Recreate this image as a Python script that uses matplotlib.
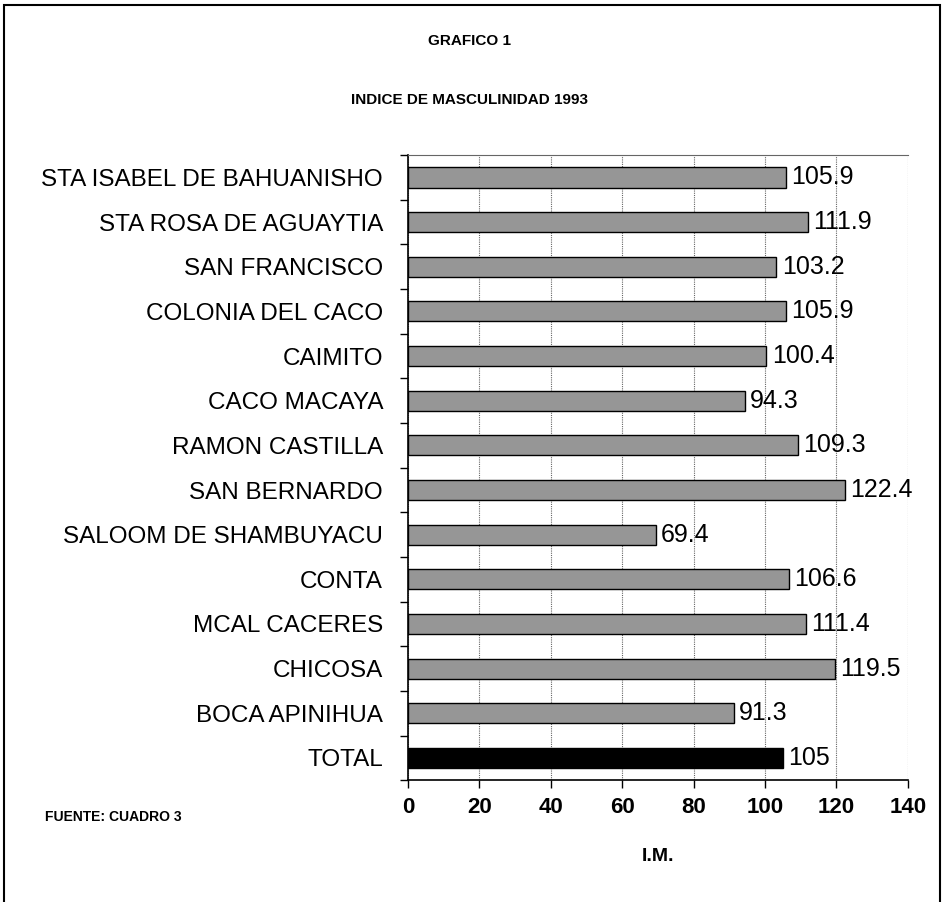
import matplotlib.pyplot as plt
import numpy as np
from matplotlib.patches import Rectangle

# data (top to bottom as shown)
places = ['STA ISABEL DE BAHUANISHO', 'STA ROSA DE AGUAYTIA', 'SAN FRANCISCO',
          'COLONIA DEL CACO', 'CAIMITO', 'CACO MACAYA', 'RAMON CASTILLA',
          'SAN BERNARDO', 'SALOOM DE SHAMBUYACU', 'CONTA', 'MCAL CACERES',
          'CHICOSA', 'BOCA APINIHUA', 'TOTAL']
im_values = [105.9, 111.9, 103.2, 105.9, 100.4, 94.3, 109.3,
             122.4, 69.4, 106.6, 111.4, 119.5, 91.3, 105]
value_labels = ['105.9', '111.9', '103.2', '105.9', '100.4', '94.3', '109.3',
                '122.4', '69.4', '106.6', '111.4', '119.5', '91.3', '105']
x_ticks = [0, 20, 40, 60, 80, 100, 120, 140]

plt.rcParams['font.family'] = ['Liberation Sans', 'DejaVu Sans']

fig = plt.figure(figsize=(9.43, 9.02), dpi=100)
ax = fig.add_axes([0.4327, 0.135, 0.53, 0.693])

ypos = np.arange(len(places))
colors = ['#969696'] * (len(places) - 1) + ['black']
ax.barh(ypos, im_values, height=0.45, color=colors, edgecolor='black',
        linewidth=1.0, zorder=3)

for y, v, lab in zip(ypos, im_values, value_labels):
    ax.text(v + 1.5, y, lab, va='center', ha='left', fontsize=18, zorder=4)

ax.set_ylim(len(places) - 0.5, -0.5)
ax.set_xlim(0, 140)
ax.set_xticks(x_ticks)
ax.set_xticklabels([str(t) for t in x_ticks], fontsize=16, fontweight='bold')
ax.set_yticks(ypos)
ax.set_yticklabels(places, fontsize=17.5)
ax.set_yticks(np.arange(len(places) + 1) - 0.5, minor=True)
ax.tick_params(axis='y', which='major', length=0, pad=18)
ax.tick_params(axis='y', which='minor', length=6, width=1, direction='out')
ax.tick_params(axis='x', length=6, width=1, direction='out', pad=6)

ax.grid(axis='x', color='#666666', linewidth=0.8, linestyle=(0, (1, 1)), zorder=1)
ax.spines['right'].set_visible(False)
ax.spines['top'].set_color('#666666')
ax.spines['top'].set_linestyle((0, (1, 1)))
ax.spines['left'].set_linewidth(1.2)
ax.spines['bottom'].set_linewidth(1.2)

ax.set_xlabel('I.M.', fontsize=14, fontweight='bold', labelpad=22)

fig.text(0.498, 0.955, 'GRAFICO 1', ha='center', va='center',
         fontsize=11, fontweight='bold')
fig.text(0.498, 0.889, 'INDICE DE MASCULINIDAD 1993', ha='center', va='center',
         fontsize=11, fontweight='bold')
fig.text(0.048, 0.094, 'FUENTE: CUADRO 3', ha='left', va='center',
         fontsize=10, fontweight='bold')

fig.patches.append(Rectangle((0.004, -0.01), 0.993, 1.005, transform=fig.transFigure,
                             fill=False, edgecolor='black', linewidth=1.5))

fig.savefig('out.png', dpi=100)
